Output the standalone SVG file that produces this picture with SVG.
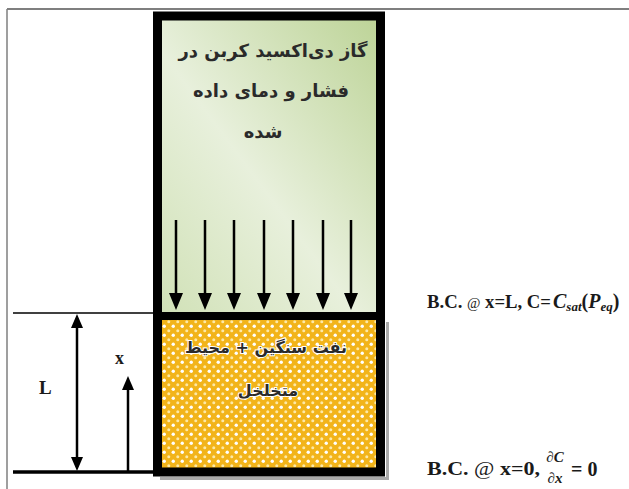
<svg xmlns="http://www.w3.org/2000/svg" width="629" height="489" viewBox="0 0 629 489">
<style>
.fa{font-family:"DejaVu Sans",sans-serif;font-weight:bold;fill:#2a2a2a;text-anchor:middle}
.ser{font-family:"Liberation Serif",serif;fill:#1a1a1a}
.thin{stroke:#000;stroke-width:1.5;fill:none}
.arr{stroke:#000;stroke-width:2.5;fill:none}
</style>
<defs>
<linearGradient id="g" x1="1" y1="0" x2="0" y2="1">
<stop offset="0" stop-color="#bcd396"/>
<stop offset="0.55" stop-color="#e8f0dc"/>
<stop offset="1" stop-color="#d0e1b6"/>
</linearGradient>
<pattern id="p" width="9" height="9" patternUnits="userSpaceOnUse">
<rect width="9" height="9" fill="#f2b41a"/>
<circle cx="2.25" cy="2.25" r="1.7" fill="#fff"/>
<circle cx="6.75" cy="6.75" r="1.5" fill="#fde9a8"/>
</pattern>
</defs>
<g id="frame">
<line x1="7" y1="9" x2="629" y2="9" stroke="#7f7f7f" stroke-width="2"/>
<line x1="7" y1="9" x2="7" y2="489" stroke="#7f7f7f" stroke-width="1.5"/>
</g>
<g id="gas">
<rect x="157.5" y="16" width="223" height="300" fill="url(#g)"/>
<text class="fa" x="273" y="57" font-size="18">گاز دی‌اکسید کربن در</text>
<text class="fa" x="271" y="97" font-size="18">فشار و دمای داده</text>
<text class="fa" x="263" y="138" font-size="18">شده</text>
</g>
<g id="oil">
<rect x="160" y="316" width="220" height="156" fill="url(#p)"/>
<rect x="386" y="322" width="3" height="158" fill="#aaa"/>
<rect x="160" y="477" width="229" height="3" fill="#aaa"/>
<text class="fa" x="266" y="353" font-size="16" stroke="#fff" stroke-width="2" paint-order="stroke">نفت سنگین + محیط</text>
<text class="fa" x="268" y="396" font-size="16" stroke="#fff" stroke-width="2" paint-order="stroke">متخلخل</text>
</g>
<g id="box">
<rect x="157.5" y="16" width="223" height="456" fill="none" stroke="#000" stroke-width="9"/>
<line x1="153" y1="316" x2="385" y2="316" stroke="#000" stroke-width="8"/>
</g>
<g id="connectors">
<line x1="13" y1="313" x2="153" y2="313" class="thin"/>
<line x1="13" y1="472" x2="153" y2="472" stroke="#000" stroke-width="3.5"/>
<line x1="77" y1="318" x2="77" y2="467" class="arr"/>
<path d="M77,314 L71,328 L83,328 z M77,471 L71,457 L83,457 z" fill="#000"/>
<line x1="128" y1="472" x2="128" y2="385" class="arr"/>
<path d="M128,376 L122,390 L134,390 z" fill="#000"/>
<g fill="#000">
<path d="M176,220 V296 M205,220 V296 M234,220 V296 M264,220 V296 M293,220 V296 M323,220 V296 M351,220 V296" stroke="#000" stroke-width="2.5"/>
<path d="M169,293 L183,293 L176,310 z M198,293 L212,293 L205,310 z M227,293 L241,293 L234,310 z M257,293 L271,293 L264,310 z M286,293 L300,293 L293,310 z M316,293 L330,293 L323,310 z M344,293 L358,293 L351,310 z"/>
</g>
</g>
<g id="labels">
<text class="ser" x="39" y="394" font-size="19" font-weight="bold">L</text>
<text class="ser" x="115" y="364" font-size="18" font-weight="bold">x</text>
<text class="ser" x="427" y="308" font-size="18" font-weight="bold" textLength="124" lengthAdjust="spacingAndGlyphs">B.C. <tspan font-weight="normal" font-size="14">@</tspan> x=L, C=</text>
<text class="ser" x="553" y="308" font-size="20" font-weight="bold" font-style="italic">C<tspan font-size="13" dy="3">sat</tspan><tspan dy="-3" font-style="normal">(</tspan>P<tspan font-size="13" dy="3">eq</tspan><tspan dy="-3" font-style="normal">)</tspan></text>
<text class="ser" x="427" y="475" font-size="18" font-weight="bold" textLength="113" lengthAdjust="spacingAndGlyphs">B.C. <tspan font-weight="normal">@</tspan> x=0,</text>
<text class="ser" x="555" y="462" font-size="15" font-weight="bold" text-anchor="middle" font-style="italic">∂C</text>
<text class="ser" x="555" y="483" font-size="15" font-weight="bold" text-anchor="middle" font-style="italic">∂x</text>
<text class="ser" x="571" y="476" font-size="20" font-weight="bold">= 0</text>
</g>
</svg>
